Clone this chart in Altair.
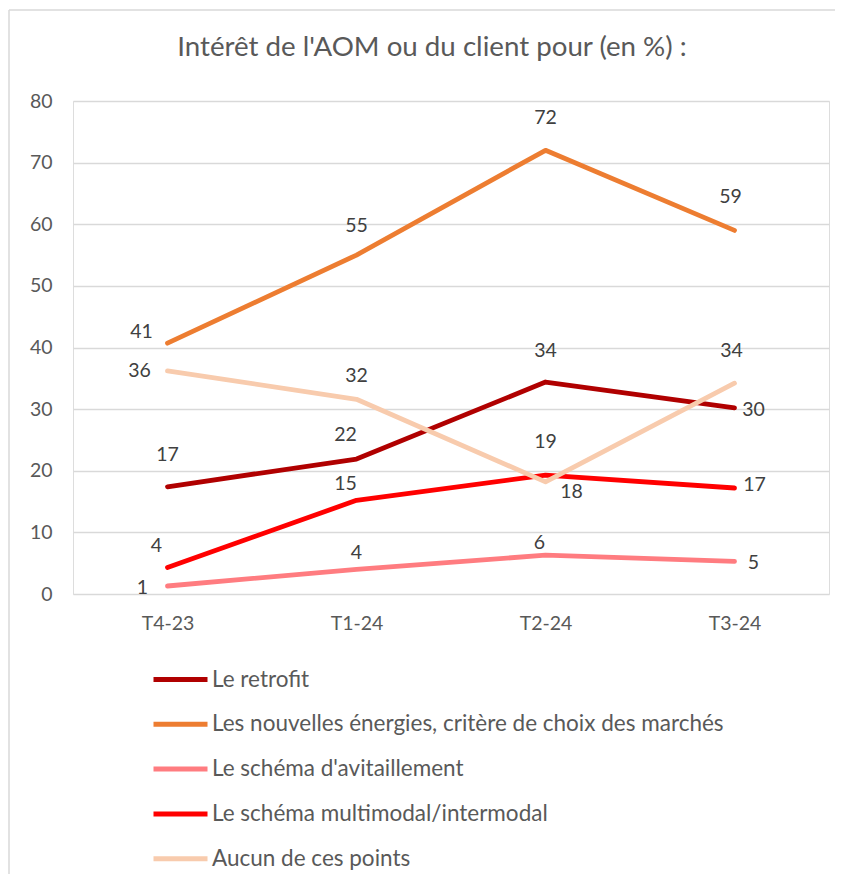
import altair as alt
import pandas as pd

periods = ["T4-23", "T1-24", "T2-24", "T3-24"]
series = [
    "Le retrofit",
    "Les nouvelles énergies, critère de choix des marchés",
    "Le schéma d'avitaillement",
    "Le schéma multimodal/intermodal",
    "Aucun de ces points",
]
retrofit = [17.4, 21.9, 34.4, 30.2]
nouvelles = [40.7, 55.0, 72.0, 59.0]
avitaillement = [1.3, 4.0, 6.3, 5.3]
multimodal = [4.3, 15.2, 19.3, 17.2]
aucun = [36.2, 31.6, 18.2, 34.2]
colors = ["#B00000", "#ED7D31", "#FF7C80", "#FF0000", "#F8CBAD"]
title_text = "Intérêt de l'AOM ou du client pour (en %) :"

# label placement offsets (pixels) per series / period
label_dx = [[0, -11, 0, 19], [-26, 0, 0, -4], [-25, 0, -6, 19], [-11, -11, 0, 20], [-28, 0, 26, -3]]
label_dy = [[-32, -24, -31, 2], [-11, -29, -32, -33], [2, -16, -12, 2], [-22, -16, -33, -3], [0, -23, 10, -32]]

values = [retrofit, nouvelles, avitaillement, multimodal, aucun]
rows = []
for si, name in enumerate(series):
    for pi, p in enumerate(periods):
        rows.append({"serie": name, "periode": p, "pidx": pi, "valeur": values[si][pi],
                     "dx": label_dx[si][pi], "dy": label_dy[si][pi]})
df = pd.DataFrame(rows)
single = pd.DataFrame({"titre": [title_text]})

FONT = "Lato"
GREY = "#595959"

x_enc = alt.X("periode:N", sort=periods, scale=alt.Scale(type="point", padding=0.5),
              axis=alt.Axis(title=None, labelAngle=0, ticks=False, domain=False, grid=False,
                            labelFontSize=19.5, labelColor=GREY, labelFont=FONT, labelPadding=20))
y_enc = alt.Y("valeur:Q", scale=alt.Scale(domain=[0, 80]),
              axis=alt.Axis(title=None, values=list(range(0, 81, 10)), ticks=False, domain=False,
                            gridColor="#D9D9D9", gridWidth=1.5, labelFontSize=19.5, labelColor=GREY,
                            labelFont=FONT, labelPadding=21))
color_enc = alt.Color("serie:N", scale=alt.Scale(domain=series, range=colors), sort=series,
                      legend=alt.Legend(title=None, orient="none", legendX=78, legendY=549,
                                        direction="vertical", symbolType="stroke",
                                        symbolStrokeWidth=5, symbolSize=2916, labelFontSize=22.5,
                                        labelFont=FONT, labelColor=GREY, labelOffset=2,
                                        rowPadding=3.8, labelLimit=800))

# outer frame of the chart (top and left edges visible in the reference crop)
frame_top = alt.Chart(single).mark_rule(stroke="#D9D9D9", strokeWidth=1.5).encode(
    x=alt.value(-64), x2=alt.value(762), y=alt.value(-91))
frame_left = alt.Chart(single).mark_rule(stroke="#D9D9D9", strokeWidth=1.5).encode(
    x=alt.value(-64), y=alt.value(-91), y2=alt.value(773))

title = alt.Chart(single).mark_text(font=FONT, fontSize=27.7, fontWeight="normal", color=GREY,
                                    align="center", baseline="middle").encode(
    x=alt.value(359), y=alt.value(-53), text="titre:N")

lines = alt.Chart(df).mark_line(strokeWidth=4.8, strokeCap="round", strokeJoin="round").encode(
    x=x_enc, y=y_enc, color=color_enc, order="pidx:Q", detail="serie:N")

labels = alt.Chart(df).mark_text(fontSize=19.5, font=FONT, color="#404040", baseline="middle",
                                 align="center", dx=alt.expr("datum.dx"),
                                 dy=alt.expr("datum.dy")).encode(
    x=alt.X("periode:N", sort=periods), y="valeur:Q",
    text=alt.Text("valeur:Q", format=".0f"))

chart = alt.layer(frame_top, frame_left, title, lines, labels).properties(
    width=756, height=493,
    autosize=alt.AutoSizeParams(type="none"),
    padding={"left": 65, "top": 93, "right": 6, "bottom": 280},
).configure_view(stroke=None).configure(background="white")

chart.save("out.html", embed_options={"renderer": "svg", "actions": False})
